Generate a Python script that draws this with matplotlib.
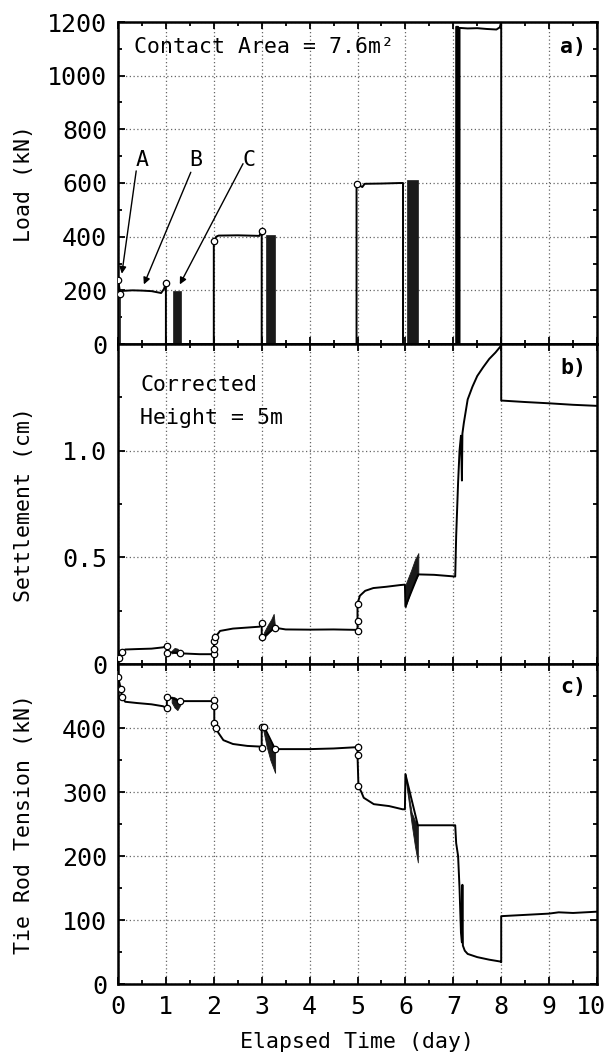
import matplotlib
matplotlib.use("Agg")
import matplotlib.pyplot as plt
import matplotlib.transforms as mtransforms
from matplotlib.ticker import MultipleLocator, FixedLocator

plt.rcParams['font.family'] = ['DejaVu Sans Mono', 'DejaVu Sans']

# ---------------- data ----------------
# Panel a: load (kN) vs elapsed time (day)
load_t = [0.00, 0.00, 0.05, 0.10, 0.30, 0.50, 0.70, 0.90, 0.96, 1.00, 1.00,
          2.00, 2.00, 2.05, 2.10, 2.50, 2.95, 3.00, 3.00,
          4.98, 4.98, 5.05, 5.10, 5.15, 5.50, 5.90, 5.95, 5.95,
          7.06, 7.06, 7.10, 7.10, 7.13, 7.13, 7.30, 7.50, 7.70, 7.90, 7.97, 8.00, 8.00, 10.0]
load_v = [0, 240, 186, 198, 200, 199, 197, 190, 205, 228, 0,
          0, 382, 400, 404, 405, 403, 421, 0,
          0, 595, 590, 585, 597, 598, 600, 600, 0,
          0, 1182, 1182, 0, 0, 1178, 1176, 1177, 1174, 1172, 1180, 1200, 0, 0]
load_mark_t = [0.00, 0.05, 1.00, 2.00, 3.00, 4.98]
load_mark_v = [240, 186, 228, 382, 421, 595]
# cyclic loading blocks (appear solid black)
cyc_start = [0.01, 1.15, 3.08, 6.03]
cyc_end = [0.05, 1.31, 3.27, 6.26]
cyc_peak = [190, 198, 406, 610]

# Panel b: settlement (cm)
set_t = [0.00, 0.02, 0.08, 0.15, 0.40, 0.70, 0.94, 1.02, 1.02, 1.12, 1.30, 1.70, 1.98,
         2.00, 2.00, 2.01, 2.03, 2.13, 2.40, 2.96, 3.00, 3.00, 3.05, 3.28, 3.50, 4.00,
         4.50, 4.98, 5.00, 5.00, 5.00, 5.05, 5.16, 5.33, 5.60, 5.89, 5.99, 6.00, 6.27,
         6.60, 7.04, 7.06, 7.10, 7.13, 7.16, 7.18, 7.19, 7.22, 7.30, 7.40, 7.50, 7.62,
         7.75, 7.88, 7.99, 8.00, 8.00, 8.50, 9.00, 9.50, 10.0]
set_v = [0.010, 0.030, 0.055, 0.068, 0.070, 0.072, 0.078, 0.085, 0.050, 0.055, 0.050, 0.046, 0.046,
         0.048, 0.070, 0.110, 0.125, 0.155, 0.166, 0.175, 0.190, 0.125, 0.130, 0.170, 0.162, 0.161,
         0.162, 0.160, 0.157, 0.200, 0.283, 0.320, 0.343, 0.356, 0.362, 0.370, 0.372, 0.270, 0.420,
         0.418, 0.410, 0.600, 0.850, 1.000, 1.070, 0.860, 1.080, 1.130, 1.240, 1.300, 1.350, 1.390,
         1.430, 1.460, 1.490, 1.500, 1.235, 1.228, 1.222, 1.215, 1.210]
set_mark_t = [0.02, 0.08, 1.02, 1.02, 1.30, 2.00, 2.00, 2.01, 2.03, 3.00, 3.00, 3.28, 5.00, 5.00, 5.00]
set_mark_v = [0.030, 0.055, 0.085, 0.050, 0.050, 0.048, 0.070, 0.110, 0.125, 0.190, 0.125, 0.170,
              0.157, 0.200, 0.283]
set_blob1_t = [1.12, 1.18, 1.24, 1.30]
set_blob1_lo = [0.050, 0.052, 0.050, 0.050]
set_blob1_hi = [0.062, 0.075, 0.072, 0.055]
set_blob3_t = [3.05, 3.12, 3.20, 3.25, 3.28]
set_blob3_lo = [0.125, 0.140, 0.160, 0.170, 0.170]
set_blob3_hi = [0.150, 0.180, 0.210, 0.235, 0.170]
set_blob6_t = [6.00, 6.05, 6.12, 6.20, 6.27]
set_blob6_lo = [0.265, 0.300, 0.350, 0.390, 0.420]
set_blob6_hi = [0.370, 0.400, 0.440, 0.490, 0.520]

# Panel c: tie rod tension (kN)
ten_t = [0.00, 0.06, 0.08, 0.15, 0.40, 0.70, 0.94, 1.02, 1.02, 1.12, 1.30, 1.70, 1.98,
         2.00, 2.01, 2.01, 2.04, 2.10, 2.20, 2.40, 2.70, 2.96, 3.00, 3.00, 3.05, 3.28,
         3.60, 4.00, 4.50, 4.98, 5.00, 5.00, 5.02, 5.08, 5.13, 5.34, 5.66, 5.94, 5.99,
         6.00, 6.26, 6.60, 7.04, 7.06, 7.10, 7.13, 7.16, 7.18, 7.19, 7.20, 7.24, 7.30,
         7.50, 7.75, 7.99, 8.00, 8.00, 8.50, 9.00, 9.20, 9.50, 10.0]
ten_v = [480, 461, 449, 441, 439, 437, 434, 431, 449, 447, 442, 442, 442,
         444, 434, 408, 400, 392, 381, 375, 372, 371, 369, 402, 402, 367,
         367, 367, 368, 370, 370, 358, 309, 300, 291, 281, 278, 273, 273,
         328, 248, 248, 248, 220, 200, 150, 80, 65, 155, 60, 52, 47,
         42, 38, 35, 34, 106, 108, 110, 112, 111, 113]
ten_mark_t = [0.00, 0.06, 0.08, 1.02, 1.02, 1.30, 2.00, 2.01, 2.01, 2.04, 3.00, 3.00, 3.05, 3.28,
              5.00, 5.00, 5.02]
ten_mark_v = [480, 461, 449, 431, 449, 442, 444, 434, 408, 400, 369, 402, 402, 367, 370, 358, 309]
ten_blob1_t = [1.12, 1.18, 1.24, 1.30]
ten_blob1_lo = [440, 432, 428, 436]
ten_blob1_hi = [449, 448, 445, 442]
ten_blob3_t = [3.03, 3.10, 3.18, 3.28]
ten_blob3_lo = [398, 372, 350, 330]
ten_blob3_hi = [402, 390, 378, 367]
ten_blob6_t = [6.00, 6.06, 6.13, 6.20, 6.26]
ten_blob6_lo = [322, 290, 250, 215, 190]
ten_blob6_hi = [328, 300, 268, 255, 248]

# annotation arrows in panel a: label position, arrow tail, arrow tip
arrow_labels = ['A', 'B', 'C']
label_xy = [(0.50, 686), (1.63, 686), (2.73, 686)]
tail_xy = [(0.38, 645), (1.52, 640), (2.61, 672)]
tip_xy = [(0.08, 262), (0.54, 222), (1.29, 222)]

# ---------------- figure ----------------
W, H = 610, 1059
fig = plt.figure(figsize=(W / 100, H / 100), dpi=100)
left = 118 / W
width = (597 - 118) / W
ax_a = fig.add_axes([left, 1 - 344 / H, width, 322 / H])
ax_b = fig.add_axes([left, 1 - 664 / H, width, 320 / H])
ax_c = fig.add_axes([left, 1 - 984 / H, width, 320 / H])

lw = 1.4
mk = dict(marker='o', ms=4.6, mfc='white', mec='black', mew=0.9, ls='none', zorder=4)
tick_fs = 18
lab_fs = 15.5

for ax in (ax_a, ax_b, ax_c):
    ax.set_xlim(0, 10)
    ax.xaxis.set_major_locator(FixedLocator(list(range(11))))
    ax.xaxis.set_minor_locator(MultipleLocator(0.5))
    ax.grid(True, which='major', ls=(0, (1, 2)), color='#666666', lw=0.9)
    ax.tick_params(which='both', direction='in', top=True, right=True,
                   labelsize=tick_fs, width=1.3)
    ax.tick_params(which='major', length=5, pad=8)
    ax.tick_params(which='minor', length=3)
    for s in ax.spines.values():
        s.set_linewidth(1.8)

# panel a
ax_a.set_ylim(0, 1200)
ax_a.yaxis.set_major_locator(MultipleLocator(200))
ax_a.yaxis.set_minor_locator(MultipleLocator(100))
ax_a.bar(cyc_start, cyc_peak, width=[e - s for s, e in zip(cyc_start, cyc_end)],
         align='edge', color='#1a1a1a', edgecolor='#1a1a1a', lw=0.5, zorder=3)
ax_a.plot(load_t, load_v, color='black', lw=lw, zorder=3)
ax_a.plot(load_mark_t, load_mark_v, **mk)
ax_a.tick_params(axis='x', labelbottom=False)
ax_a.set_ylabel('Load (kN)', fontsize=lab_fs)
ax_a.yaxis.set_label_coords(-0.175, 0.5)
ax_a.text(0.033, 0.922, 'Contact Area = 7.6m²', transform=ax_a.transAxes,
          fontsize=lab_fs, ha='left', va='center')
ax_a.text(0.977, 0.922, 'a)', transform=ax_a.transAxes, fontsize=lab_fs,
          fontweight='bold', ha='right', va='center')
for lab, lxy, txy, pxy in zip(arrow_labels, label_xy, tail_xy, tip_xy):
    ax_a.text(lxy[0], lxy[1], lab, fontsize=lab_fs, ha='center', va='center')
    ax_a.annotate('', xy=pxy, xytext=txy,
                  arrowprops=dict(arrowstyle='-|>', color='black', lw=1.0,
                                  mutation_scale=10, shrinkA=0, shrinkB=0))

# panel b
ax_b.set_ylim(0, 1.5)
ax_b.yaxis.set_major_locator(FixedLocator([0, 0.5, 1.0, 1.5]))
ax_b.yaxis.set_minor_locator(MultipleLocator(0.25))
ax_b.set_yticklabels(['0', '0.5', '1.0', ''])
for bt, blo, bhi in ((set_blob1_t, set_blob1_lo, set_blob1_hi),
                     (set_blob3_t, set_blob3_lo, set_blob3_hi),
                     (set_blob6_t, set_blob6_lo, set_blob6_hi)):
    ax_b.fill_between(bt, blo, bhi, color='#1a1a1a', lw=0.6, zorder=3)
ax_b.plot(set_t, set_v, color='black', lw=lw, zorder=3)
ax_b.plot(set_mark_t, set_mark_v, **mk)
ax_b.tick_params(axis='x', labelbottom=False)
ax_b.set_ylabel('Settlement (cm)', fontsize=lab_fs)
ax_b.yaxis.set_label_coords(-0.175, 0.5)
ax_b.text(0.046, 0.872, 'Corrected', transform=ax_b.transAxes, fontsize=lab_fs,
          ha='left', va='center')
ax_b.text(0.046, 0.769, 'Height = 5m', transform=ax_b.transAxes, fontsize=lab_fs,
          ha='left', va='center')
ax_b.text(0.977, 0.925, 'b)', transform=ax_b.transAxes, fontsize=lab_fs,
          fontweight='bold', ha='right', va='center')

# panel c
ax_c.set_ylim(0, 500)
ax_c.yaxis.set_major_locator(FixedLocator([0, 100, 200, 300, 400, 500]))
ax_c.yaxis.set_minor_locator(MultipleLocator(50))
ax_c.set_yticklabels(['0', '100', '200', '300', '400', ''])
for bt, blo, bhi in ((ten_blob1_t, ten_blob1_lo, ten_blob1_hi),
                     (ten_blob3_t, ten_blob3_lo, ten_blob3_hi),
                     (ten_blob6_t, ten_blob6_lo, ten_blob6_hi)):
    ax_c.fill_between(bt, blo, bhi, color='#1a1a1a', lw=0.6, zorder=3)
ax_c.plot(ten_t, ten_v, color='black', lw=lw, zorder=3)
ax_c.plot(ten_mark_t, ten_mark_v, **mk)
ax_c.set_ylabel('Tie Rod Tension (kN)', fontsize=lab_fs)
ax_c.yaxis.set_label_coords(-0.175, 0.5)
ax_c.set_xlabel('Elapsed Time (day)', fontsize=lab_fs)
ax_c.xaxis.set_label_coords(0.5, -0.15)
ax_c.text(0.977, 0.928, 'c)', transform=ax_c.transAxes, fontsize=lab_fs,
          fontweight='bold', ha='right', va='center')

# keep the "10" tick label inside the picture (it sits at the right edge)
fig.canvas.draw()
last_tick = ax_c.xaxis.get_major_ticks()[-1]
last_tick.label1.set_transform(last_tick.label1.get_transform() +
                               mtransforms.ScaledTranslation(-6 / 100, 0, fig.dpi_scale_trans))

fig.savefig('out.png', dpi=100)
